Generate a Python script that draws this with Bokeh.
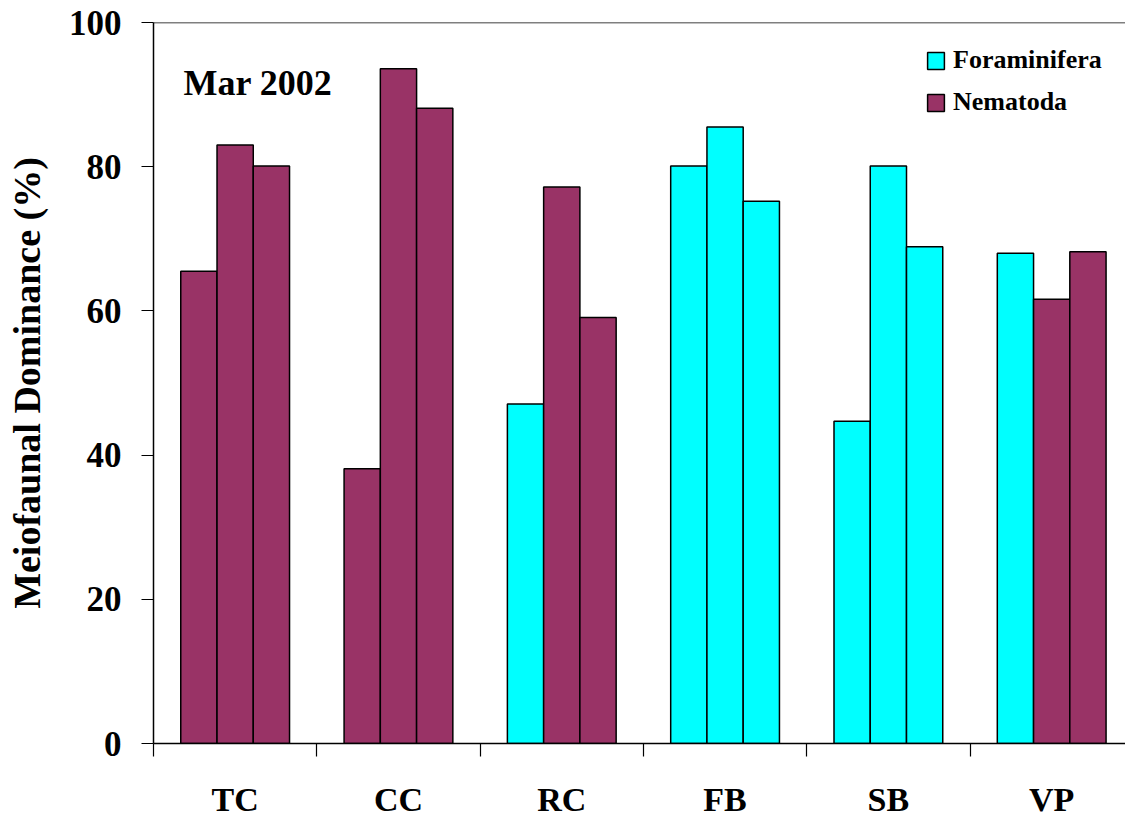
from bokeh.plotting import figure
from bokeh.models import (ColumnDataSource, Range1d, FixedTicker, Legend, LegendItem,
                          Label, Span)
from bokeh.embed import file_html
from bokeh.resources import INLINE

# ---- data ----
sites = ["TC", "CC", "RC", "FB", "SB", "VP"]
dominance = [
    [65.5, 83.0, 80.1],   # TC
    [38.1, 93.6, 88.1],   # CC
    [47.1, 77.2, 59.1],   # RC
    [80.1, 85.5, 75.2],   # FB
    [44.7, 80.1, 68.9],   # SB
    [68.0, 61.6, 68.2],   # VP
]
dominant_taxon = [
    ["Nematoda", "Nematoda", "Nematoda"],
    ["Nematoda", "Nematoda", "Nematoda"],
    ["Foraminifera", "Nematoda", "Nematoda"],
    ["Foraminifera", "Foraminifera", "Foraminifera"],
    ["Foraminifera", "Foraminifera", "Foraminifera"],
    ["Foraminifera", "Nematoda", "Nematoda"],
]
taxa = ["Foraminifera", "Nematoda"]
y_ticks = [0, 20, 40, 60, 80, 100]
panel_title = "Mar 2002"
y_title = "Meiofaunal Dominance (%)"

colors = {"Foraminifera": "#00FFFF", "Nematoda": "#993366"}
FONT = "Liberation Serif"
bar_w = 0.222

p = figure(width=1125, height=820, x_range=Range1d(0, 5.952), y_range=Range1d(0, 100),
           output_backend="svg", toolbar_location=None,
           min_border_left=153, min_border_right=0, min_border_top=22, min_border_bottom=77)
p.outline_line_color = None
p.xgrid.visible = False
p.ygrid.visible = False
p.background_fill_color = "white"

renderers = {}
for taxon in taxa:
    xs, tops = [], []
    for i, site in enumerate(sites):
        for j, v in enumerate(dominance[i]):
            if dominant_taxon[i][j] == taxon:
                xs.append(i + 0.5 + (j - 1) * bar_w)
                tops.append(v)
    src = ColumnDataSource(dict(x=xs, top=tops))
    renderers[taxon] = p.vbar(x="x", top="top", bottom=0, width=bar_w, source=src,
                              fill_color=colors[taxon], line_color="black", line_width=1.5)

# axes
xa = p.xaxis[0]
xa.ticker = FixedTicker(ticks=[i + 0.5 for i in range(len(sites))],
                        minor_ticks=list(range(len(sites))))
xa.major_label_overrides = {i + 0.5: s for i, s in enumerate(sites)}
xa.major_tick_line_color = None
xa.minor_tick_line_color = "black"
xa.minor_tick_out = 13
xa.minor_tick_in = 0
xa.axis_line_color = "black"
xa.axis_line_width = 1.5
xa.minor_tick_line_width = 1.2
xa.major_label_standoff = 24
xa.major_label_text_font = FONT
xa.major_label_text_font_style = "bold"
xa.major_label_text_font_size = "34px"
xa.major_label_text_color = "black"

ya = p.yaxis[0]
ya.ticker = FixedTicker(ticks=y_ticks)
ya.major_tick_out = 12
ya.major_tick_in = 0
ya.major_tick_line_color = "black"
ya.major_tick_line_width = 1.2
ya.minor_tick_line_color = None
ya.axis_line_color = "black"
ya.axis_line_width = 1.5
ya.major_label_standoff = 20
ya.major_label_text_font = FONT
ya.major_label_text_font_style = "bold"
ya.major_label_text_font_size = "35px"
ya.major_label_text_color = "black"
ya.axis_label = y_title
ya.axis_label_text_font = FONT
ya.axis_label_text_font_style = "bold"
ya.axis_label_text_font_size = "38px"
ya.axis_label_text_color = "black"
ya.axis_label_standoff = 18

p.add_layout(Span(location=100, dimension="width", line_color="black", line_width=1.5))

p.add_layout(Label(x=0.184, y=91.6, text=panel_title, text_font=FONT,
                   text_font_style="bold", text_font_size="36px", text_color="black",
                   text_baseline="alphabetic"))

legend = Legend(items=[LegendItem(label=t, renderers=[renderers[t]]) for t in taxa],
                location=(772, 626), padding=0, margin=0, spacing=12,
                glyph_width=21, glyph_height=21, label_standoff=7,
                label_text_font=FONT, label_text_font_style="bold",
                label_text_font_size="26px", label_text_color="black",
                border_line_color=None, background_fill_alpha=0)
p.add_layout(legend)

open("out.html", "w").write(file_html(p, INLINE))
